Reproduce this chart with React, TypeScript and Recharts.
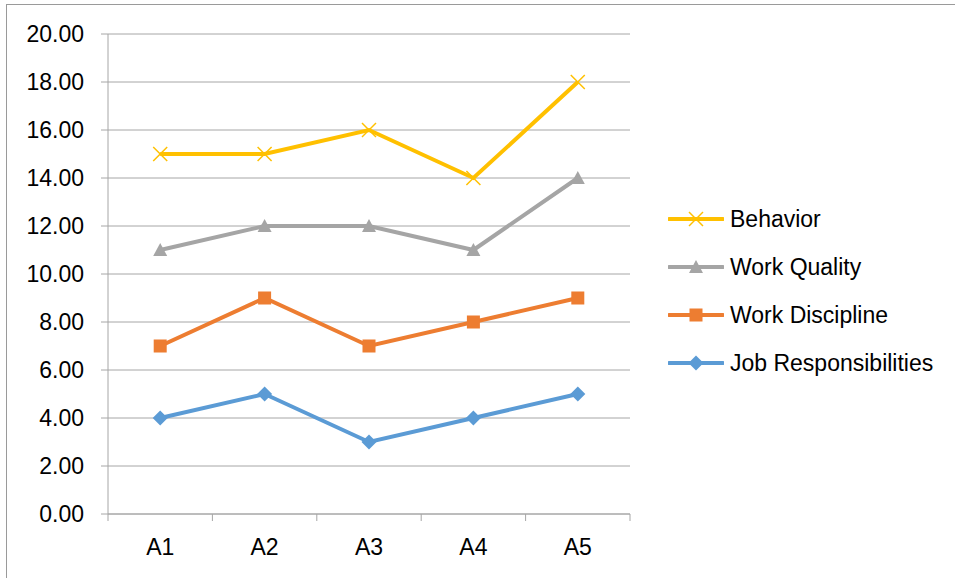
import React from 'react';
import { LineChart, Line, XAxis, YAxis, CartesianGrid, Legend } from 'recharts';

const categories = ['A1', 'A2', 'A3', 'A4', 'A5'];
const behavior = [15, 15, 16, 14, 18];
const workQuality = [11, 12, 12, 11, 14];
const workDiscipline = [7, 9, 7, 8, 9];
const jobResponsibilities = [4, 5, 3, 4, 5];
const yTicks = [0, 2, 4, 6, 8, 10, 12, 14, 16, 18, 20];

const data = categories.map((name, i) => ({
  name,
  behavior: behavior[i],
  workQuality: workQuality[i],
  workDiscipline: workDiscipline[i],
  jobResponsibilities: jobResponsibilities[i],
}));

type Shape = 'x' | 'triangle' | 'square' | 'diamond';

const series: { key: string; name: string; color: string; shape: Shape }[] = [
  { key: 'behavior', name: 'Behavior', color: '#FFC000', shape: 'x' },
  { key: 'workQuality', name: 'Work Quality', color: '#A5A5A5', shape: 'triangle' },
  { key: 'workDiscipline', name: 'Work Discipline', color: '#ED7D31', shape: 'square' },
  { key: 'jobResponsibilities', name: 'Job Responsibilities', color: '#5B9BD5', shape: 'diamond' },
];

const FONT = '"Liberation Sans", Arial, sans-serif';
const GRID = '#A6A6A6';
const TICK_LEN = 7;

function Marker({ cx, cy, color, shape }: { cx: number; cy: number; color: string; shape: Shape }) {
  if (shape === 'x') {
    const s = 7;
    return (
      <g stroke={color} strokeWidth={1.5}>
        <line x1={cx - s} y1={cy - s} x2={cx + s} y2={cy + s} />
        <line x1={cx - s} y1={cy + s} x2={cx + s} y2={cy - s} />
      </g>
    );
  }
  if (shape === 'triangle') {
    return <polygon points={`${cx},${cy - 7} ${cx + 7},${cy + 6} ${cx - 7},${cy + 6}`} fill={color} />;
  }
  if (shape === 'square') {
    return <rect x={cx - 6.5} y={cy - 6.5} width={13} height={13} fill={color} />;
  }
  return <polygon points={`${cx},${cy - 7.5} ${cx + 7.5},${cy} ${cx},${cy + 7.5} ${cx - 7.5},${cy}`} fill={color} />;
}

// Category tick: label at the band centre, tick marks on the band boundaries.
function CategoryTick(props: any) {
  const { x, y, payload, index, visibleTicksCount } = props;
  const half = payload?.offset ?? 0;
  const axisY = y - 25;
  const isLast = index === (visibleTicksCount ?? categories.length) - 1;
  return (
    <g>
      <line x1={x - half} y1={axisY} x2={x - half} y2={axisY + TICK_LEN} stroke={GRID} strokeWidth={1} />
      {isLast && (
        <line x1={x + half} y1={axisY} x2={x + half} y2={axisY + TICK_LEN} stroke={GRID} strokeWidth={1} />
      )}
      <text x={x} y={y} dy="0.71em" textAnchor="middle" fill="#000" fontSize={23} fontFamily={FONT}>
        {payload.value}
      </text>
    </g>
  );
}

function LegendContent() {
  return (
    <div style={{ fontFamily: FONT, fontSize: 23, color: '#000' }}>
      {series.map((s) => (
        <div key={s.key} style={{ height: 48, display: 'flex', alignItems: 'center' }}>
          <svg width={56} height={20} style={{ marginRight: 6 }}>
            <line x1={1} y1={10} x2={55} y2={10} stroke={s.color} strokeWidth={4} strokeLinecap="round" />
            <Marker cx={28} cy={10} color={s.color} shape={s.shape} />
          </svg>
          <span>{s.name}</span>
        </div>
      ))}
    </div>
  );
}

export default function App() {
  return (
    <div style={{ position: 'fixed', left: 0, top: 0, width: 955, height: 578, background: '#fff', overflow: 'hidden' }}>
      <div style={{ position: 'absolute', left: 6, top: 4, width: 2000, height: 1, background: '#9A9A9A' }} />
      <div style={{ position: 'absolute', left: 6, top: 4, width: 1, height: 2000, background: '#9A9A9A' }} />
      <div style={{ position: 'absolute', left: 0, top: 0 }}>
        <LineChart
          width={955}
          height={578}
          data={data}
          margin={{ top: 34, right: 325, bottom: 0, left: 8 }}
        >
          <CartesianGrid vertical={false} stroke={GRID} strokeWidth={1} />
          <XAxis
            dataKey="name"
            scale="band"
            axisLine={{ stroke: GRID, strokeWidth: 1 }}
            tickLine={false}
            tickSize={0}
            tickMargin={25}
            height={64}
            interval={0}
            tick={<CategoryTick />}
          />
          <YAxis
            domain={[0, 20]}
            ticks={yTicks}
            interval={0}
            width={100}
            tickFormatter={(v: number) => v.toFixed(2)}
            axisLine={{ stroke: GRID, strokeWidth: 1 }}
            tickLine={{ stroke: GRID, strokeWidth: 1 }}
            tickSize={TICK_LEN}
            tickMargin={17}
            tick={{ fill: '#000', fontSize: 23, fontFamily: FONT }}
          />
          <Legend
            layout="vertical"
            align="center"
            verticalAlign="middle"
            content={<LegendContent />}
            wrapperStyle={{ left: 668, top: 195, width: 290, right: 'auto', bottom: 'auto' }}
          />
          {series.map((s) => (
            <Line
              key={s.key}
              dataKey={s.key}
              name={s.name}
              stroke={s.color}
              strokeWidth={4}
              isAnimationActive={false}
              dot={(p: any) => (
                <Marker key={`${s.key}-${p.index}`} cx={p.cx} cy={p.cy} color={s.color} shape={s.shape} />
              )}
              activeDot={false}
            />
          ))}
        </LineChart>
      </div>
    </div>
  );
}
